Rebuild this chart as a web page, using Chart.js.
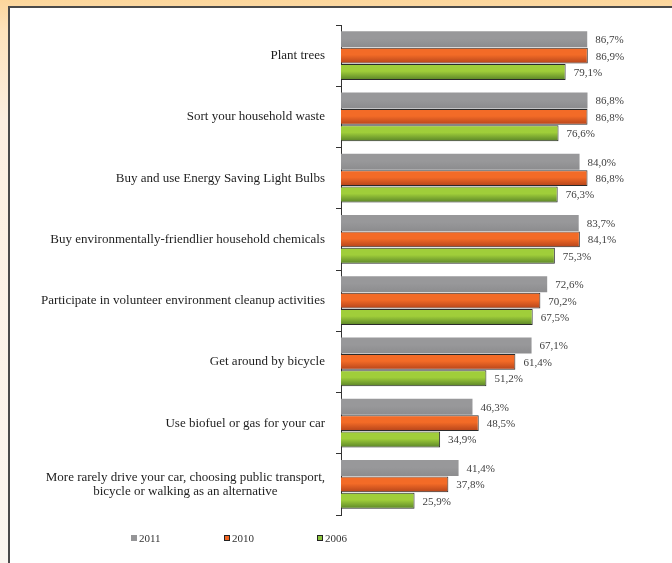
<!DOCTYPE html>
<html>
<head>
<meta charset="utf-8">
<script src="https://cdn.jsdelivr.net/npm/chart.js@4"></script>
<style>
    html, body { margin: 0; padding: 0; }
    body {
        width: 672px; height: 563px; overflow: hidden; position: relative;
        background: linear-gradient(to bottom, #fcd69b 0px, #fde2bb 30px, #fcefe0 120px, #fbf6f0 100%);
    }
    .panel { position: absolute; left: 8px; top: 6px; width: 700px; height: 600px; background: #fff; border: 2px solid #4a4a4a; box-sizing: border-box; }
    #chart { position: absolute; left: 0; top: 0; }
</style>
</head>
<body>
<div class="panel"></div>
<canvas id="chart" width="672" height="563"></canvas>
<script>
const categories = [
    "Plant trees",
    "Sort your household waste",
    "Buy and use Energy Saving Light Bulbs",
    "Buy environmentally-friendlier household chemicals",
    "Participate in volunteer environment cleanup activities",
    "Get around by bicycle",
    "Use biofuel or gas for your car",
    ["More rarely drive your car, choosing public transport,", "bicycle or walking as an alternative"]
];
const years = ["2011", "2010", "2006"];
const values2011 = [86.7, 86.8, 84.0, 83.7, 72.6, 67.1, 46.3, 41.4];
const values2010 = [86.9, 86.8, 86.8, 84.1, 70.2, 61.4, 48.5, 37.8];
const values2006 = [79.1, 76.6, 76.3, 75.3, 67.5, 51.2, 34.9, 25.9];

const serif = '"Liberation Serif", "Times New Roman", serif';

// vertical gradient per bar, needs element position so chart is updated once after creation
const barFill = (top, bottom) => c => {
    const el = c.element;
    if (!el || el.height == null || isNaN(el.y)) return top;
    const g = c.chart.ctx.createLinearGradient(0, el.y - el.height / 2, 0, el.y + el.height / 2);
    g.addColorStop(0, top);
    g.addColorStop(0.45, top);
    g.addColorStop(1, bottom);
    return g;
};

const fmt = v => v.toFixed(1).replace(".", ",") + "%";

const labelPlugin = {
    id: "labels",
    afterDraw(chart) {
        const ctx = chart.ctx;
        const yScale = chart.scales.y;
        const area = chart.chartArea;
        ctx.save();
        ctx.textBaseline = "middle";

        // category labels
        ctx.font = "13px " + serif;
        ctx.fillStyle = "#1e1e1e";
        ctx.textAlign = "center";
        categories.forEach((lab, i) => {
            const lines = Array.isArray(lab) ? lab : [lab];
            const w = Math.max(...lines.map(l => ctx.measureText(l).width));
            const cx = area.left - 16 - w / 2;
            const cy = yScale.getPixelForTick(i);
            lines.forEach((l, k) => ctx.fillText(l, cx, cy + (k - (lines.length - 1) / 2) * 14));
        });

        // value labels
        ctx.font = "11px " + serif;
        ctx.fillStyle = "#404040";
        ctx.textAlign = "left";
        chart.data.datasets.forEach((ds, di) => {
            chart.getDatasetMeta(di).data.forEach((bar, i) => {
                ctx.fillText(fmt(ds.data[i]), bar.x + 8, bar.y + 1);
            });
        });

        // legend
        const ly = area.bottom + 23;
        chart.data.datasets.forEach((ds, di) => {
            const lx = 131 + di * 93;
            ctx.fillStyle = ds.legendColor;
            ctx.fillRect(lx, ly - 3, 6, 6);
            if (di > 0) {
                ctx.strokeStyle = "#222";
                ctx.lineWidth = 1;
                ctx.strokeRect(lx + 0.5, ly - 2.5, 5, 5);
            }
            ctx.fillStyle = "#333";
            ctx.font = "11px " + serif;
            ctx.fillText(ds.label, lx + 8, ly + 1);
        });
        ctx.restore();
    }
};

const chart = new Chart(document.getElementById("chart"), {
    type: "bar",
    data: {
        labels: categories,
        datasets: [
            {
                label: years[0],
                data: values2011,
                backgroundColor: barFill("#98989a", "#8c8c8e"),
                legendColor: "#959597",
                borderWidth: 0
            },
            {
                label: years[1],
                data: values2010,
                backgroundColor: barFill("#f36b27", "#b4431a"),
                legendColor: "#f26522",
                borderColor: "#2a2a2a",
                borderWidth: 1
            },
            {
                label: years[2],
                data: values2006,
                backgroundColor: barFill("#a0ce3a", "#5a8428"),
                legendColor: "#8dc63f",
                borderColor: "#2a2a2a",
                borderWidth: 1
            }
        ]
    },
    options: {
        indexAxis: "y",
        responsive: false,
        animation: false,
        categoryPercentage: 0.8,
        barPercentage: 0.97,
        layout: { padding: { left: 0, right: 47, top: 25, bottom: 48 } },
        scales: {
            x: { display: false, min: 0, max: 100 },
            y: {
                afterFit: s => { s.width = 341; },
                ticks: { display: false },
                grid: { drawOnChartArea: false, tickLength: 5, color: "#333", lineWidth: 1 },
                border: { display: true, color: "#333", width: 1 }
            }
        },
        plugins: {
            legend: { display: false },
            tooltip: { enabled: false }
        }
    },
    plugins: [labelPlugin]
});
chart.update("none");
</script>
</body>
</html>
